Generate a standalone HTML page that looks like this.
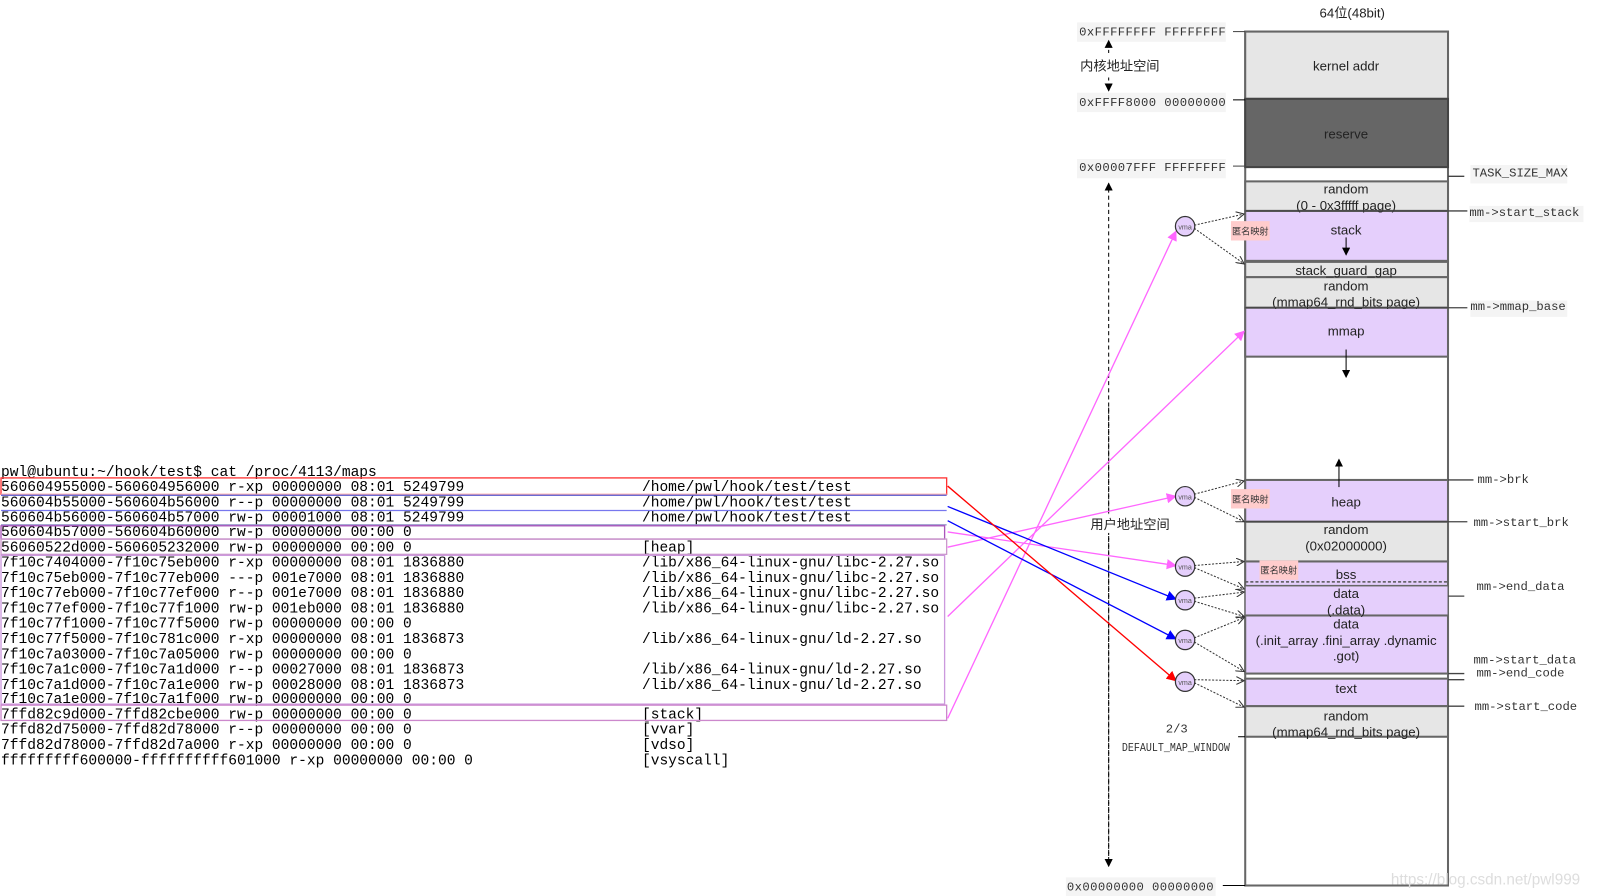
<!DOCTYPE html>
<html><head><meta charset="utf-8"><style>
body{margin:0;background:#fff;}
svg{display:block}
.t{font-family:"Liberation Mono",monospace;font-size:14.3px;fill:#000}
.s{font-family:"Liberation Sans","Noto Sans CJK SC",sans-serif;font-size:13px;fill:#222;text-anchor:middle}
.m{font-family:"Liberation Mono",monospace;font-size:12px;fill:#333}
.c{font-family:"Liberation Sans","Noto Sans CJK SC",sans-serif;font-size:13px;fill:#222}
</style></head><body>
<svg width="1597" height="896" viewBox="0 0 1597 896" xmlns="http://www.w3.org/2000/svg">
<defs>
<marker id="ak" markerWidth="8" markerHeight="8" refX="7" refY="4" orient="auto" markerUnits="userSpaceOnUse"><path d="M0,0 L8,4 L0,8 z" fill="#000"/></marker>
<marker id="ap" markerWidth="10" markerHeight="10" refX="9" refY="5" orient="auto" markerUnits="userSpaceOnUse"><path d="M0,0 L10,5 L0,10 z" fill="#f6f"/></marker>
<marker id="ab" markerWidth="10" markerHeight="10" refX="9" refY="5" orient="auto" markerUnits="userSpaceOnUse"><path d="M0,0 L10,5 L0,10 z" fill="#00f"/></marker>
<marker id="ar" markerWidth="10" markerHeight="10" refX="9" refY="5" orient="auto" markerUnits="userSpaceOnUse"><path d="M0,0 L10,5 L0,10 z" fill="#f00"/></marker>
<marker id="ao" markerWidth="9" markerHeight="8" refX="8" refY="4" orient="auto" markerUnits="userSpaceOnUse"><path d="M0,0 L8,4 L0,8" fill="none" stroke="#333"/></marker>
</defs>
<g transform="scale(1.019)">
<g class="t">
<text x="1" y="467">pwl@ubuntu:~/hook/test$ cat /proc/4113/maps</text>
<text x="1" y="482">560604955000-560604956000 r-xp 00000000 08:01 5249799</text><text x="630" y="482">/home/pwl/hook/test/test</text>
<text x="1" y="497">560604b55000-560604b56000 r--p 00000000 08:01 5249799</text><text x="630" y="497">/home/pwl/hook/test/test</text>
<text x="1" y="512">560604b56000-560604b57000 rw-p 00001000 08:01 5249799</text><text x="630" y="512">/home/pwl/hook/test/test</text>
<text x="1" y="526">560604b57000-560604b60000 rw-p 00000000 00:00 0</text>
<text x="1" y="541">56060522d000-560605232000 rw-p 00000000 00:00 0</text><text x="630" y="541">[heap]</text>
<text x="1" y="556">7f10c7404000-7f10c75eb000 r-xp 00000000 08:01 1836880</text><text x="630" y="556">/lib/x86_64-linux-gnu/libc-2.27.so</text>
<text x="1" y="571">7f10c75eb000-7f10c77eb000 ---p 001e7000 08:01 1836880</text><text x="630" y="571">/lib/x86_64-linux-gnu/libc-2.27.so</text>
<text x="1" y="586">7f10c77eb000-7f10c77ef000 r--p 001e7000 08:01 1836880</text><text x="630" y="586">/lib/x86_64-linux-gnu/libc-2.27.so</text>
<text x="1" y="601">7f10c77ef000-7f10c77f1000 rw-p 001eb000 08:01 1836880</text><text x="630" y="601">/lib/x86_64-linux-gnu/libc-2.27.so</text>
<text x="1" y="616">7f10c77f1000-7f10c77f5000 rw-p 00000000 00:00 0</text>
<text x="1" y="631">7f10c77f5000-7f10c781c000 r-xp 00000000 08:01 1836873</text><text x="630" y="631">/lib/x86_64-linux-gnu/ld-2.27.so</text>
<text x="1" y="646">7f10c7a03000-7f10c7a05000 rw-p 00000000 00:00 0</text>
<text x="1" y="661">7f10c7a1c000-7f10c7a1d000 r--p 00027000 08:01 1836873</text><text x="630" y="661">/lib/x86_64-linux-gnu/ld-2.27.so</text>
<text x="1" y="676">7f10c7a1d000-7f10c7a1e000 rw-p 00028000 08:01 1836873</text><text x="630" y="676">/lib/x86_64-linux-gnu/ld-2.27.so</text>
<text x="1" y="690">7f10c7a1e000-7f10c7a1f000 rw-p 00000000 00:00 0</text>
<text x="1" y="705">7ffd82c9d000-7ffd82cbe000 rw-p 00000000 00:00 0</text><text x="630" y="705">[stack]</text>
<text x="1" y="720">7ffd82d75000-7ffd82d78000 r--p 00000000 00:00 0</text><text x="630" y="720">[vvar]</text>
<text x="1" y="735">7ffd82d78000-7ffd82d7a000 r-xp 00000000 00:00 0</text><text x="630" y="735">[vdso]</text>
<text x="1" y="750">fffffffff600000-ffffffffff601000 r-xp 00000000 00:00 0</text><text x="630" y="750">[vsyscall]</text>
</g>
<g fill="none" stroke-width="1.3">
<rect x="1" y="469" width="928" height="16" stroke="#f33"/>
<line x1="1" y1="485" x2="929" y2="485" stroke="#fbb"/>
<line x1="1" y1="486" x2="929" y2="486" stroke="#55c"/>
<line x1="1" y1="501" x2="929" y2="501" stroke="#77e"/>
<line x1="1" y1="515" x2="929" y2="515" stroke="#99c"/>
<rect x="1" y="516" width="926" height="13" stroke="#a5b"/>
<rect x="1" y="529" width="928" height="15" stroke="#c9c"/>
<rect x="1" y="545" width="926" height="146" stroke="#c9d"/>
<rect x="1" y="692" width="928" height="15" stroke="#c8c"/>
</g>

<rect x="1222" y="31" width="199" height="838" fill="#fff" stroke="#666" stroke-width="2"/>
<rect x="1222" y="31" width="199" height="66" fill="#e6e6e6" stroke="#666" stroke-width="2"/>
<rect x="1222" y="97" width="199" height="67" fill="#666" stroke="#444" stroke-width="2"/>
<rect x="1222" y="178" width="199" height="29" fill="#e6e6e6" stroke="#666" stroke-width="2"/>
<rect x="1222" y="207" width="199" height="49" fill="#e5cffc" stroke="#666" stroke-width="2"/>
<rect x="1222" y="257" width="199" height="15" fill="#e6e6e6" stroke="#666" stroke-width="2"/>
<rect x="1222" y="272" width="199" height="30" fill="#e6e6e6" stroke="#666" stroke-width="2"/>
<rect x="1222" y="302" width="199" height="48" fill="#e5cffc" stroke="#666" stroke-width="2"/>
<rect x="1222" y="471" width="199" height="41" fill="#e5cffc" stroke="#666" stroke-width="2"/>
<rect x="1222" y="512" width="199" height="39" fill="#e6e6e6" stroke="#666" stroke-width="2"/>
<rect x="1222" y="551" width="199" height="24" fill="#e5cffc" stroke="#666" stroke-width="2"/>
<rect x="1222" y="575" width="199" height="29" fill="#e5cffc" stroke="#666" stroke-width="1"/>
<rect x="1222" y="604" width="199" height="57" fill="#e5cffc" stroke="#666" stroke-width="2"/>
<rect x="1222" y="666" width="199" height="27" fill="#e5cffc" stroke="#666" stroke-width="2"/>
<rect x="1222" y="693" width="199" height="30" fill="#e6e6e6" stroke="#666" stroke-width="2"/>
<line x1="1222" y1="571" x2="1421" y2="571" stroke="#555" stroke-dasharray="3,2" stroke-width="1.5"/>

<text class="s" x="1327" y="17" font-size="15">64位(48bit)</text>
<text class="s" x="1321" y="69">kernel addr</text>
<text class="s" x="1321" y="136" fill="#333">reserve</text>
<text class="s" x="1321" y="190">random</text><text class="s" x="1321" y="206">(0 - 0x3fffff page)</text>
<text class="s" x="1321" y="230">stack</text>
<text class="s" x="1321" y="270">stack_guard_gap</text>
<text class="s" x="1321" y="285">random</text><text class="s" x="1321" y="301">(mmap64_rnd_bits page)</text>
<text class="s" x="1321" y="329">mmap</text>
<text class="s" x="1321" y="497">heap</text>
<text class="s" x="1321" y="524">random</text><text class="s" x="1321" y="540">(0x02000000)</text>
<text class="s" x="1321" y="568">bss</text>
<text class="s" x="1321" y="587">data</text><text class="s" x="1321" y="603">(.data)</text>
<text class="s" x="1321" y="617">data</text><text class="s" x="1321" y="633">(.init_array .fini_array .dynamic</text><text class="s" x="1321" y="648">.got)</text>
<text class="s" x="1321" y="680">text</text>
<text class="s" x="1321" y="707">random</text><text class="s" x="1321" y="723">(mmap64_rnd_bits page)</text>

<line x1="1321" y1="233" x2="1321" y2="250" stroke="#000" marker-end="url(#ak)"/>
<line x1="1321" y1="343" x2="1321" y2="370" stroke="#000" marker-end="url(#ak)"/>
<line x1="1314" y1="478" x2="1314" y2="451" stroke="#000" marker-end="url(#ak)"/>

<g stroke="#444" stroke-width="1.3">
<line x1="1421" y1="173" x2="1437" y2="173"/>
<line x1="1222" y1="207" x2="1440" y2="207"/>
<line x1="1222" y1="302" x2="1440" y2="302"/>
<line x1="1421" y1="471" x2="1446" y2="471"/>
<line x1="1222" y1="512" x2="1440" y2="512"/>
<line x1="1421" y1="585" x2="1437" y2="585"/>
<line x1="1421" y1="661" x2="1437" y2="661"/>
<line x1="1421" y1="667" x2="1437" y2="667"/>
<line x1="1421" y1="693" x2="1437" y2="693"/>
</g>
<rect x="1443" y="162" width="95" height="18" fill="#f4f4f4"/>
<text class="m" x="1445" y="173">TASK_SIZE_MAX</text>
<rect x="1442" y="202" width="112" height="16" fill="#f4f4f4"/>
<text class="m" x="1442" y="212">mm-&gt;start_stack</text>
<rect x="1443" y="295" width="95" height="16" fill="#f4f4f4"/>
<text class="m" x="1443" y="304">mm-&gt;mmap_base</text>
<text class="m" x="1450" y="474">mm-&gt;brk</text>
<text class="m" x="1446" y="516">mm-&gt;start_brk</text>
<text class="m" x="1449" y="579">mm-&gt;end_data</text>
<text class="m" x="1446" y="651">mm-&gt;start_data</text>
<text class="m" x="1449" y="664">mm-&gt;end_code</text>
<text class="m" x="1447" y="697">mm-&gt;start_code</text>

<rect x="1057" y="22" width="146" height="19" fill="#f4f4f4"/>
<text class="m" x="1059" y="35" letter-spacing="0.4">0xFFFFFFFF FFFFFFFF</text>
<rect x="1057" y="91" width="146" height="19" fill="#f4f4f4"/>
<text class="m" x="1059" y="104" letter-spacing="0.4">0xFFFF8000 00000000</text>
<rect x="1057" y="156" width="146" height="19" fill="#f4f4f4"/>
<text class="m" x="1059" y="168" letter-spacing="0.4">0x00007FFF FFFFFFFF</text>
<rect x="1046" y="861" width="147" height="19" fill="#f4f4f4"/>
<text class="m" x="1047" y="874" letter-spacing="0.4">0x00000000 00000000</text>
<line x1="1210" y1="31" x2="1222" y2="31" stroke="#444"/>
<line x1="1210" y1="98" x2="1222" y2="98" stroke="#000"/>
<line x1="1210" y1="163" x2="1222" y2="163" stroke="#444"/>
<line x1="1215" y1="723" x2="1222" y2="723" stroke="#000"/>
<line x1="1200" y1="869" x2="1222" y2="869" stroke="#000"/>

<line x1="1088" y1="52" x2="1088" y2="40" stroke="#000" stroke-dasharray="3,3" marker-end="url(#ak)"/>
<line x1="1088" y1="76" x2="1088" y2="89" stroke="#000" stroke-dasharray="3,3" marker-end="url(#ak)"/>
<text class="c" x="1060" y="69">内核地址空间</text>
<line x1="1088" y1="840" x2="1088" y2="180" stroke="#000" stroke-dasharray="4,3" marker-end="url(#ak)"/>
<line x1="1088" y1="400" x2="1088" y2="850" stroke="#000" stroke-dasharray="4,3" marker-end="url(#ak)"/>
<rect x="1068" y="505" width="90" height="18" fill="#fff"/>
<text class="c" x="1070" y="519">用户地址空间</text>
<text class="m" x="1144" y="719" font-size="9">2/3</text>
<text class="m" x="1101" y="737" font-size="8.5" textLength="106" lengthAdjust="spacingAndGlyphs">DEFAULT_MAP_WINDOW</text>

<g stroke-width="1.3" fill="none">
<line x1="930" y1="705" x2="1154" y2="227" stroke="#f6f" marker-end="url(#ap)"/>
<line x1="930" y1="605" x2="1221" y2="325" stroke="#f6f" marker-end="url(#ap)"/>
<line x1="930" y1="537" x2="1154" y2="487" stroke="#f6f" marker-end="url(#ap)"/>
<line x1="930" y1="522" x2="1154" y2="555" stroke="#f6f" marker-end="url(#ap)"/>
<line x1="930" y1="497" x2="1154" y2="588" stroke="#00f" marker-end="url(#ab)"/>
<line x1="930" y1="511" x2="1154" y2="627" stroke="#00f" marker-end="url(#ab)"/>
<line x1="930" y1="477" x2="1154" y2="668" stroke="#f00" marker-end="url(#ar)"/>
</g>

<g stroke="#333" stroke-width="1" stroke-dasharray="2,1.5" fill="none">
<line x1="1172" y1="221" x2="1221" y2="210" marker-end="url(#ao)"/><line x1="1172" y1="224" x2="1221" y2="259" marker-end="url(#ao)"/>
<line x1="1172" y1="485" x2="1221" y2="472" marker-end="url(#ao)"/><line x1="1172" y1="488" x2="1221" y2="512" marker-end="url(#ao)"/>
<line x1="1172" y1="555" x2="1221" y2="551" marker-end="url(#ao)"/><line x1="1172" y1="557" x2="1221" y2="578" marker-end="url(#ao)"/>
<line x1="1172" y1="587" x2="1221" y2="581" marker-end="url(#ao)"/><line x1="1172" y1="590" x2="1221" y2="605" marker-end="url(#ao)"/>
<line x1="1172" y1="626" x2="1221" y2="606" marker-end="url(#ao)"/><line x1="1172" y1="630" x2="1221" y2="659" marker-end="url(#ao)"/>
<line x1="1172" y1="667" x2="1221" y2="668" marker-end="url(#ao)"/><line x1="1172" y1="670" x2="1221" y2="694" marker-end="url(#ao)"/>
</g>
<g fill="#e5cffc" stroke="#333" stroke-width="1.2">
<circle cx="1163" cy="222" r="9.5"/><circle cx="1163" cy="487" r="9.5"/><circle cx="1163" cy="556" r="9.5"/>
<circle cx="1163" cy="589" r="9.5"/><circle cx="1163" cy="628" r="9.5"/><circle cx="1163" cy="669" r="9.5"/>
</g>
<g font-family="Liberation Sans,sans-serif" font-size="7" fill="#555" text-anchor="middle">
<text x="1163" y="225">vma</text><text x="1163" y="490">vma</text><text x="1163" y="559">vma</text>
<text x="1163" y="592">vma</text><text x="1163" y="631">vma</text><text x="1163" y="672">vma</text>
</g>
<g font-family="Liberation Sans,Noto Sans CJK SC,sans-serif" font-size="9" fill="#333">
<rect x="1208" y="217" width="38" height="19" fill="#fcc"/><text x="1209" y="230">匿名映射</text>
<rect x="1208" y="480" width="38" height="19" fill="#fcc"/><text x="1209" y="493">匿名映射</text>
<rect x="1236" y="550" width="38" height="19" fill="#fcc"/><text x="1237" y="563">匿名映射</text>
</g>
<text x="1365" y="868" font-family="Liberation Sans,sans-serif" font-size="15" fill="#ddd">https://blog.csdn.net/pwl999</text>
</g>
</svg>
</body></html>
